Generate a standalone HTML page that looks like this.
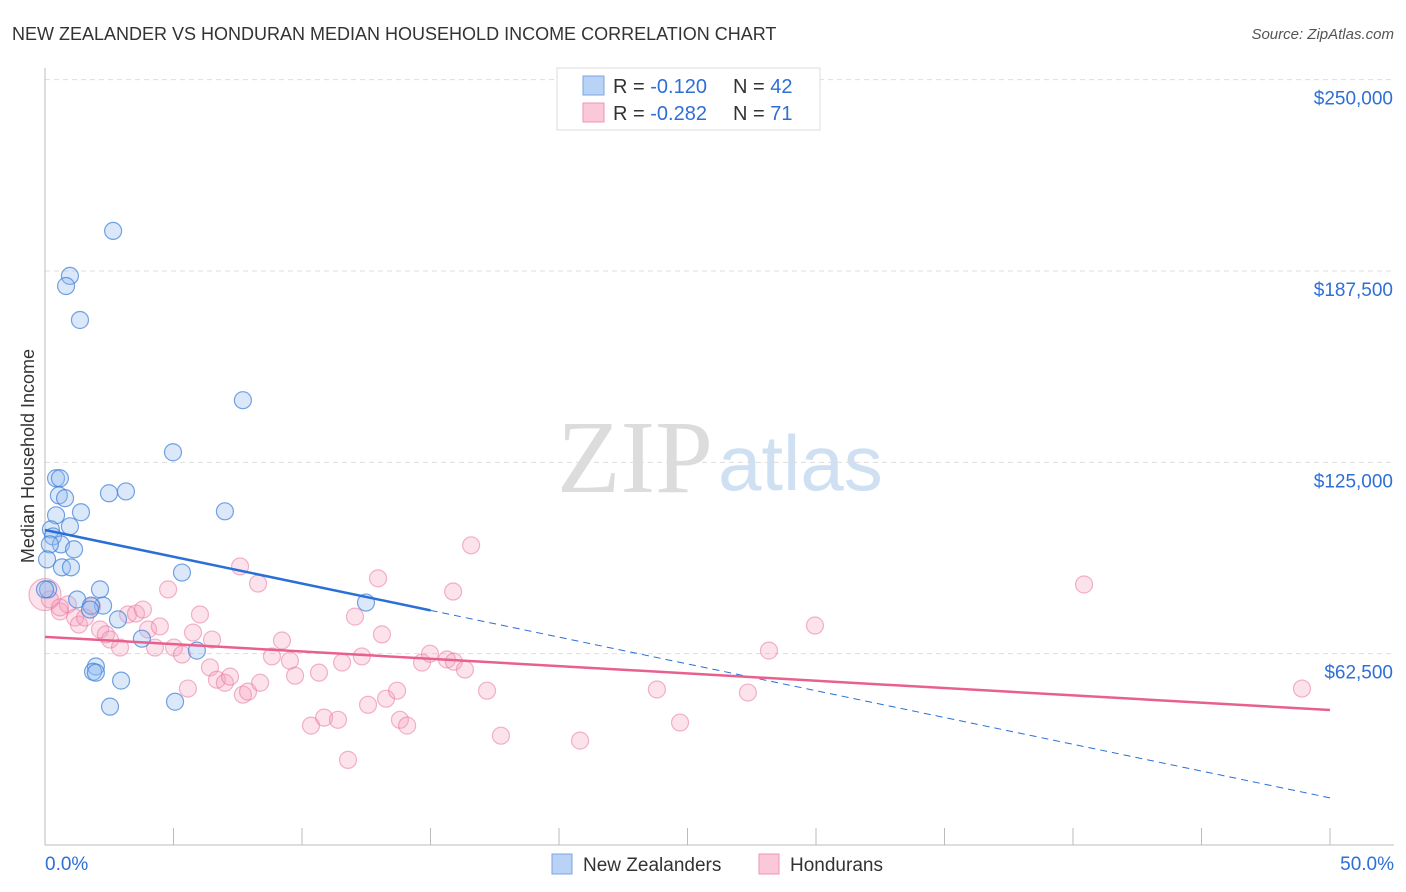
<!DOCTYPE html>
<html><head><meta charset="utf-8"><style>
body{margin:0;background:#fff;font-family:"Liberation Sans",sans-serif;}
#wrap{position:relative;width:1406px;height:892px;overflow:hidden;}
</style></head><body>
<div id="wrap">
<svg id="svg" width="1406" height="892" xmlns="http://www.w3.org/2000/svg">
<text x="12" y="40" font-size="18" fill="#333">NEW ZEALANDER VS HONDURAN MEDIAN HOUSEHOLD INCOME CORRELATION CHART</text>
<text x="1394" y="39" font-size="15" fill="#555" text-anchor="end" font-style="italic">Source: ZipAtlas.com</text>
<text x="713" y="492" font-size="104" fill="#dcdcdc" text-anchor="end" font-family="Liberation Serif, serif">ZIP</text>
<text x="718" y="490" font-size="78" fill="#cfe0f3">atlas</text>
<text transform="translate(34,456) rotate(-90)" font-size="18" fill="#333" text-anchor="middle">Median Household Income</text>
<g id="grid"></g><g id="pts"></g><g id="trend"></g>
<g>
<rect x="557" y="68" width="263" height="62" fill="#fff" stroke="#ddd"/>
<rect x="583" y="76" width="21" height="19" fill="#b8d3f5" stroke="#7aa6e3"/>
<rect x="583" y="103" width="21" height="19" fill="#fbc8d8" stroke="#ee96b4"/>
<text x="613" y="93" font-size="20" fill="#333">R = <tspan fill="#2e6fd6">-0.120</tspan></text>
<text x="733" y="93" font-size="20" fill="#333">N = <tspan fill="#2e6fd6">42</tspan></text>
<text x="613" y="120" font-size="20" fill="#333">R = <tspan fill="#2e6fd6">-0.282</tspan></text>
<text x="733" y="120" font-size="20" fill="#333">N = <tspan fill="#2e6fd6"> 71</tspan></text>
</g>
<g>
<rect x="552" y="854" width="20" height="20" fill="#b8d3f5" stroke="#7aa6e3"/>
<text x="583" y="871" font-size="19" fill="#333">New Zealanders</text>
<rect x="759" y="854" width="20" height="20" fill="#fbc8d8" stroke="#ee96b4"/>
<text x="790" y="871" font-size="19" fill="#333">Hondurans</text>
</g>
</svg>
</div>
<script>
const yTicks=[62.5,125,187.5,250];
const yTickLabels=["$62,500","$125,000","$187,500","$250,000"];
const xTickLabels=["0.0%","50.0%"];
const nzX=[2.65,0.97,0.82,1.36,7.70,4.98,0.43,0.58,0.54,0.78,2.49,3.15,0.43,1.40,0.97,7.00,0.23,0.31,0.62,1.13,0.19,0.08,0.66,1.01,5.33,2.14,0.12,1.25,2.26,1.79,1.75,2.84,3.77,12.49,5.91,1.98,1.87,1.98,2.96,2.53,5.06,0.0];
const nzY=[200.6,185.9,182.6,171.5,145.3,128.3,119.8,119.8,114.2,113.3,114.9,115.5,107.7,108.7,104.1,109.0,103.1,100.8,98.2,96.6,98.2,93.3,90.7,90.7,89.0,83.5,83.5,80.2,78.2,78.2,76.9,73.7,67.4,79.2,63.5,58.3,56.6,56.3,53.7,45.2,46.8,83.5];
const hnX=[0,0.19,0.58,0.89,1.17,1.32,1.83,2.14,2.37,2.53,2.92,3.23,3.54,3.81,4.01,4.47,4.28,4.79,5.02,5.33,5.56,5.76,6.03,6.42,6.50,6.69,7.00,7.20,7.59,7.70,7.90,8.29,8.37,8.83,9.22,9.53,9.73,10.35,10.66,10.86,11.40,11.56,12.06,12.33,12.57,12.96,13.11,13.27,13.70,13.81,14.09,14.67,14.98,15.64,15.88,15.91,16.34,16.58,17.20,17.74,20.82,23.81,24.71,27.35,28.17,29.96,40.43,48.91,11.79,0.58,1.56];
const hnY=[81.8,80.2,76.3,78.6,74.3,72.0,77.9,70.4,68.8,67.1,64.5,75.3,75.6,76.9,70.4,71.4,64.5,83.5,64.5,62.2,51.1,69.4,75.3,58.0,67.1,54.0,53.0,55.0,91.0,49.1,50.1,85.4,53.0,61.6,66.8,60.2,55.3,39.0,56.3,41.6,40.9,59.6,74.6,61.6,45.8,87.1,68.8,47.8,50.4,40.9,39.0,59.6,62.5,60.6,82.8,59.9,57.3,97.9,50.4,35.7,34.1,50.8,40.0,49.8,63.5,71.7,85.1,51.1,27.8,77.6,74.3];
const hnR=[16];
const nzTrend=[102.9,15.4];
const hnTrend=[68.0,44.1];
const X=p=>45+p*25.7;
const Y=v=>845-v*3.0613;
const NS="http://www.w3.org/2000/svg";
function mk(t,a,parent){const e=document.createElementNS(NS,t);for(const k in a)e.setAttribute(k,a[k]);parent.appendChild(e);return e;}
const grid=document.getElementById('grid'),pts=document.getElementById('pts'),tr=document.getElementById('trend');
yTicks.forEach((v,i)=>{
 const l=mk('line',{x1:45,x2:1394,y1:Y(v),y2:Y(v),stroke:'#ddd','stroke-dasharray':'5,4'},grid);
 
 
 const t=mk('text',{x:1393,y:Y(v)+25,'font-size':19,fill:'#2e6fd6','text-anchor':'end'},grid);
 t.textContent=yTickLabels[i];
 
 
});
const ax=mk('line',{x1:45,x2:45,y1:68,y2:845,stroke:'#bbb'},grid);


const bx=mk('line',{x1:45,x2:1394,y1:845,y2:845,stroke:'#bbb'},grid);


for(let i=0;i<=10;i++){const t=mk('line',{x1:X(i*5),x2:X(i*5),y1:828,y2:845,stroke:'#bbb'},grid);
 
 }
[[0,'start',45],[50,'end',1394]].forEach((d,i)=>{const t=mk('text',{x:d[2],y:870,'font-size':19,fill:'#2e6fd6','text-anchor':d[1]},grid);t.textContent=xTickLabels[i];
 
 });
hnX.forEach((x,i)=>{const c=mk('circle',{cx:X(x),cy:Y(hnY[i]),r:i===0?hnR[0]:8.5,fill:'rgba(246,160,190,0.3)',stroke:'rgba(232,120,160,0.55)','stroke-width':1.2},pts);
 
 });
nzX.forEach((x,i)=>{const c=mk('circle',{cx:X(x),cy:Y(nzY[i]),r:8.5,fill:'rgba(150,190,240,0.35)',stroke:'rgba(60,125,215,0.7)','stroke-width':1.2},pts);
 
 });
const nzAt=p=>nzTrend[0]+(nzTrend[1]-nzTrend[0])*p/50;
const l1=mk('line',{x1:X(0),y1:Y(nzAt(0)),x2:X(15),y2:Y(nzAt(15)),stroke:'#2a6fd6','stroke-width':2.5},tr);


const l2=mk('line',{x1:X(15),y1:Y(nzAt(15)),x2:X(50),y2:Y(nzAt(50)),stroke:'#2a6fd6','stroke-width':1,'stroke-dasharray':'7,5'},tr);


const l3=mk('line',{x1:X(0),y1:Y(hnTrend[0]),x2:X(50),y2:Y(hnTrend[1]),stroke:'#e8608e','stroke-width':2.5},tr);


</script>
</body></html>
